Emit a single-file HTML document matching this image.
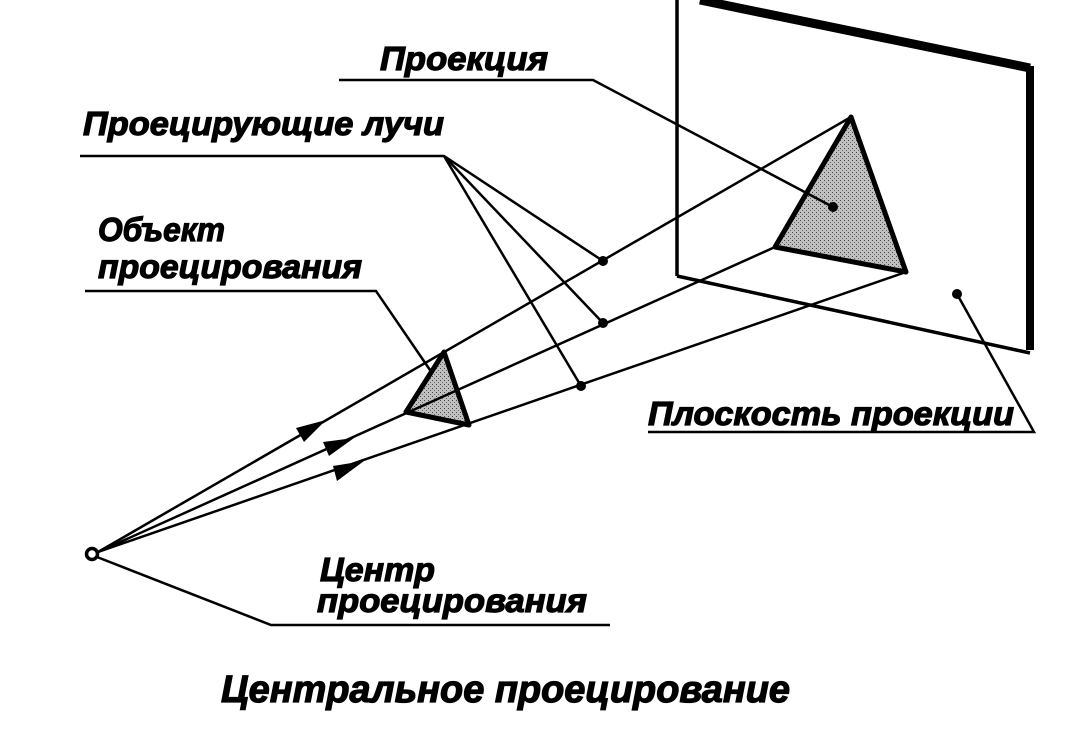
<!DOCTYPE html>
<html><head><meta charset="utf-8"><style>
html,body{margin:0;padding:0;background:#fff;width:1073px;height:737px;overflow:hidden}
text{font-family:"Liberation Sans",sans-serif;font-weight:bold;font-style:italic;fill:#000;stroke:#000;stroke-width:1.2}
</style></head><body>
<svg width="1073" height="737" viewBox="0 0 1073 737" xmlns="http://www.w3.org/2000/svg">
<defs>
<pattern id="g" width="4" height="4" patternUnits="userSpaceOnUse">
<rect width="4" height="4" fill="#c0c0c0"/><rect x="0" y="0" width="1" height="1" fill="#444"/><rect x="2" y="2" width="1" height="1" fill="#666"/>
</pattern>
</defs>
<line x1="677" y1="0" x2="677" y2="276" stroke="#000" stroke-width="3.5"/>
<line x1="677" y1="276" x2="1030" y2="353" stroke="#000" stroke-width="3.5"/>
<line x1="700" y1="0" x2="1030" y2="68" stroke="#000" stroke-width="9"/>
<line x1="1030" y1="66" x2="1030" y2="350" stroke="#000" stroke-width="8"/>
<polygon points="851,117 775,247 906,272" fill="url(#g)" stroke="#000" stroke-width="5" stroke-linejoin="round"/>
<polygon points="444,352 406,412 469,425" fill="url(#g)" stroke="#000" stroke-width="5" stroke-linejoin="round"/>
<g stroke="#000" stroke-width="2.5">
<line x1="98" y1="552" x2="851" y2="117"/>
<line x1="98" y1="552" x2="775" y2="247"/>
<line x1="98" y1="552" x2="906" y2="272"/>
</g>
<polygon points="326,420 296,428 304,442" fill="#000"/>
<polygon points="354,438 323,442 329,456" fill="#000"/>
<polygon points="364,461 333,466 337,481" fill="#000"/>
<circle cx="92" cy="554" r="5.5" fill="#fff" stroke="#000" stroke-width="3.5"/>
<g stroke="#000" stroke-width="2.5" fill="none">
<polyline points="339,80 593,80 833,207"/>
<polyline points="80,156 444,156 603,261"/>
<line x1="444" y1="156" x2="603" y2="323"/>
<line x1="444" y1="156" x2="581" y2="386"/>
<polyline points="85,291 376,291 430,370"/>
<polyline points="97,557 271,625 610,625"/>
<polyline points="957,294 1034,432 648,432"/>
</g>
<g fill="#000">
<circle cx="603" cy="261" r="5"/>
<circle cx="603" cy="323" r="5"/>
<circle cx="581" cy="386" r="5"/>
<circle cx="833" cy="207" r="5"/>
<circle cx="957" cy="294" r="5"/>
</g>
<text x="380" y="70" font-size="33" textLength="168" lengthAdjust="spacingAndGlyphs">Проекция</text>
<text x="83" y="135" font-size="33" textLength="361" lengthAdjust="spacingAndGlyphs">Проецирующие лучи</text>
<text x="98" y="241" font-size="33" textLength="127" lengthAdjust="spacingAndGlyphs">Объект</text>
<text x="98" y="278" font-size="33" textLength="264" lengthAdjust="spacingAndGlyphs">проецирования</text>
<text x="648" y="425" font-size="33" textLength="366" lengthAdjust="spacingAndGlyphs">Плоскость проекции</text>
<text x="320" y="581" font-size="33" textLength="115" lengthAdjust="spacingAndGlyphs">Центр</text>
<text x="317" y="612" font-size="33" textLength="270" lengthAdjust="spacingAndGlyphs">проецирования</text>
<text x="221" y="702" font-size="38" textLength="569" lengthAdjust="spacingAndGlyphs">Центральное проецирование</text>
</svg>
</body></html>
